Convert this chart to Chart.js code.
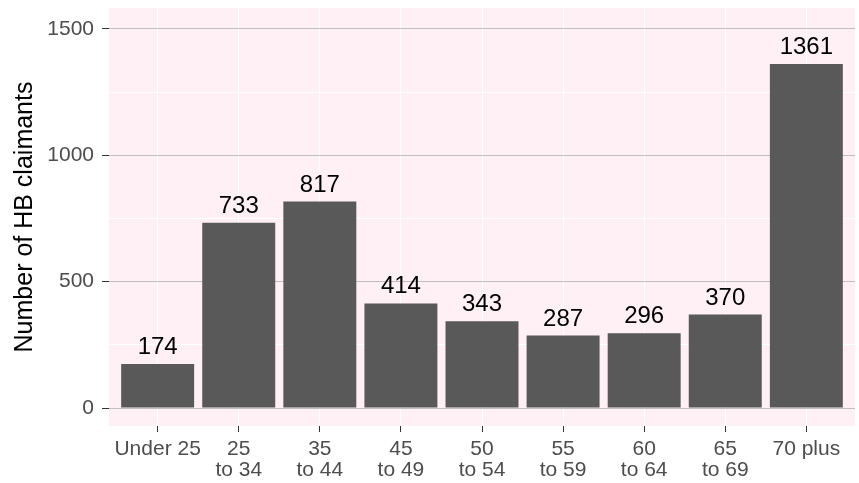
<!DOCTYPE html>
<html>
<head>
<meta charset="utf-8">
<script src="https://cdn.jsdelivr.net/npm/chart.js@4/dist/chart.umd.min.js"></script>
<style>
  html, body { margin: 0; padding: 0; background: #ffffff; }
  #wrap { width: 859px; height: 483px; }
</style>
</head>
<body>
<div id="wrap"><canvas id="c" width="859" height="483"></canvas></div>
<script>
// ---- data ----
const categories = ["Under 25", "25 to 34", "35 to 44", "45 to 49", "50 to 54", "55 to 59", "60 to 64", "65 to 69", "70 plus"];
const tickLabels = [["Under 25"], ["25", "to 34"], ["35", "to 44"], ["45", "to 49"], ["50", "to 54"], ["55", "to 59"], ["60", "to 64"], ["65", "to 69"], ["70 plus"]];
const claimants = [174, 733, 817, 414, 343, 287, 296, 370, 1361];
const yTicks = [0, 250, 500, 750, 1000, 1250, 1500];
const yTitle = "Number of HB claimants";

const FONT = "'Liberation Sans', Arial, sans-serif";
const positions = categories.map((_, i) => i);
const points = claimants.map((v, i) => ({ x: i, y: v }));

const panelBg = {
  id: 'panelBg',
  beforeDraw(chart) {
    const { ctx, chartArea: a } = chart;
    ctx.save();
    ctx.fillStyle = '#FFF0F5';
    ctx.fillRect(a.left, a.top, a.right - a.left, a.bottom - a.top);
    ctx.restore();
  }
};

const valueLabels = {
  id: 'valueLabels',
  afterDatasetsDraw(chart) {
    const { ctx } = chart;
    const meta = chart.getDatasetMeta(0);
    ctx.save();
    ctx.font = "24px " + FONT;
    ctx.fillStyle = '#000000';
    ctx.textAlign = 'center';
    ctx.textBaseline = 'alphabetic';
    meta.data.forEach((bar, i) => {
      ctx.fillText(String(claimants[i]), bar.x, bar.y - 10);
    });
    ctx.restore();
  }
};

new Chart(document.getElementById('c'), {
  type: 'bar',
  data: {
    datasets: [{
      data: points,
      backgroundColor: '#595959',
      borderWidth: 0,
      barPercentage: 0.9,
      categoryPercentage: 1.0
    }]
  },
  options: {
    responsive: false,
    animation: false,
    layout: { padding: { top: 8, right: 4, left: 0, bottom: 0 } },
    plugins: { legend: { display: false }, tooltip: { enabled: false } },
    scales: {
      x: {
        type: 'linear',
        z: -1,
        min: -0.6,
        max: 8.6,
        offset: false,
        afterBuildTicks(scale) { scale.ticks = positions.map(v => ({ value: v })); },
        afterFit(scale) { scale.height = 57; scale.paddingLeft = 0; scale.paddingRight = 0; },
        grid: { color: '#FFFFFF', lineWidth: 1, offset: false, drawTicks: true, tickLength: 6, tickColor: '#333333', tickWidth: 1 },
        border: { display: false },
        ticks: {
          autoSkip: false, maxRotation: 0, minRotation: 0, padding: 7,
          color: '#4D4D4D',
          font: { family: FONT, size: 21, lineHeight: 1.0 },
          callback: (v) => tickLabels[Math.round(v)]
        }
      },
      y: {
        type: 'linear',
        z: -2,
        min: -71,
        max: 1583,
        afterBuildTicks(scale) { scale.ticks = yTicks.map(v => ({ value: v })); },
        afterFit(scale) { scale.width = 109; scale.paddingTop = 0; scale.paddingBottom = 0; },
        grid: {
          color: (c) => (c.tick && c.tick.value % 500 === 0) ? '#BEBEBE' : '#FFFFFF',
          lineWidth: 1,
          drawTicks: true, tickLength: 7,
          tickColor: (c) => (c.tick && c.tick.value % 500 === 0) ? '#333333' : 'rgba(0,0,0,0)',
          tickWidth: 1
        },
        border: { display: false },
        ticks: {
          padding: 8,
          color: '#4D4D4D',
          font: { family: FONT, size: 21 },
          callback: (v) => (v % 500 === 0 ? String(v) : '')
        },
        title: {
          display: true,
          text: yTitle,
          color: '#000000',
          font: { family: FONT, size: 25 },
          padding: { top: 10, bottom: 0 }
        }
      }
    }
  },
  plugins: [panelBg, valueLabels]
});
</script>
</body>
</html>
